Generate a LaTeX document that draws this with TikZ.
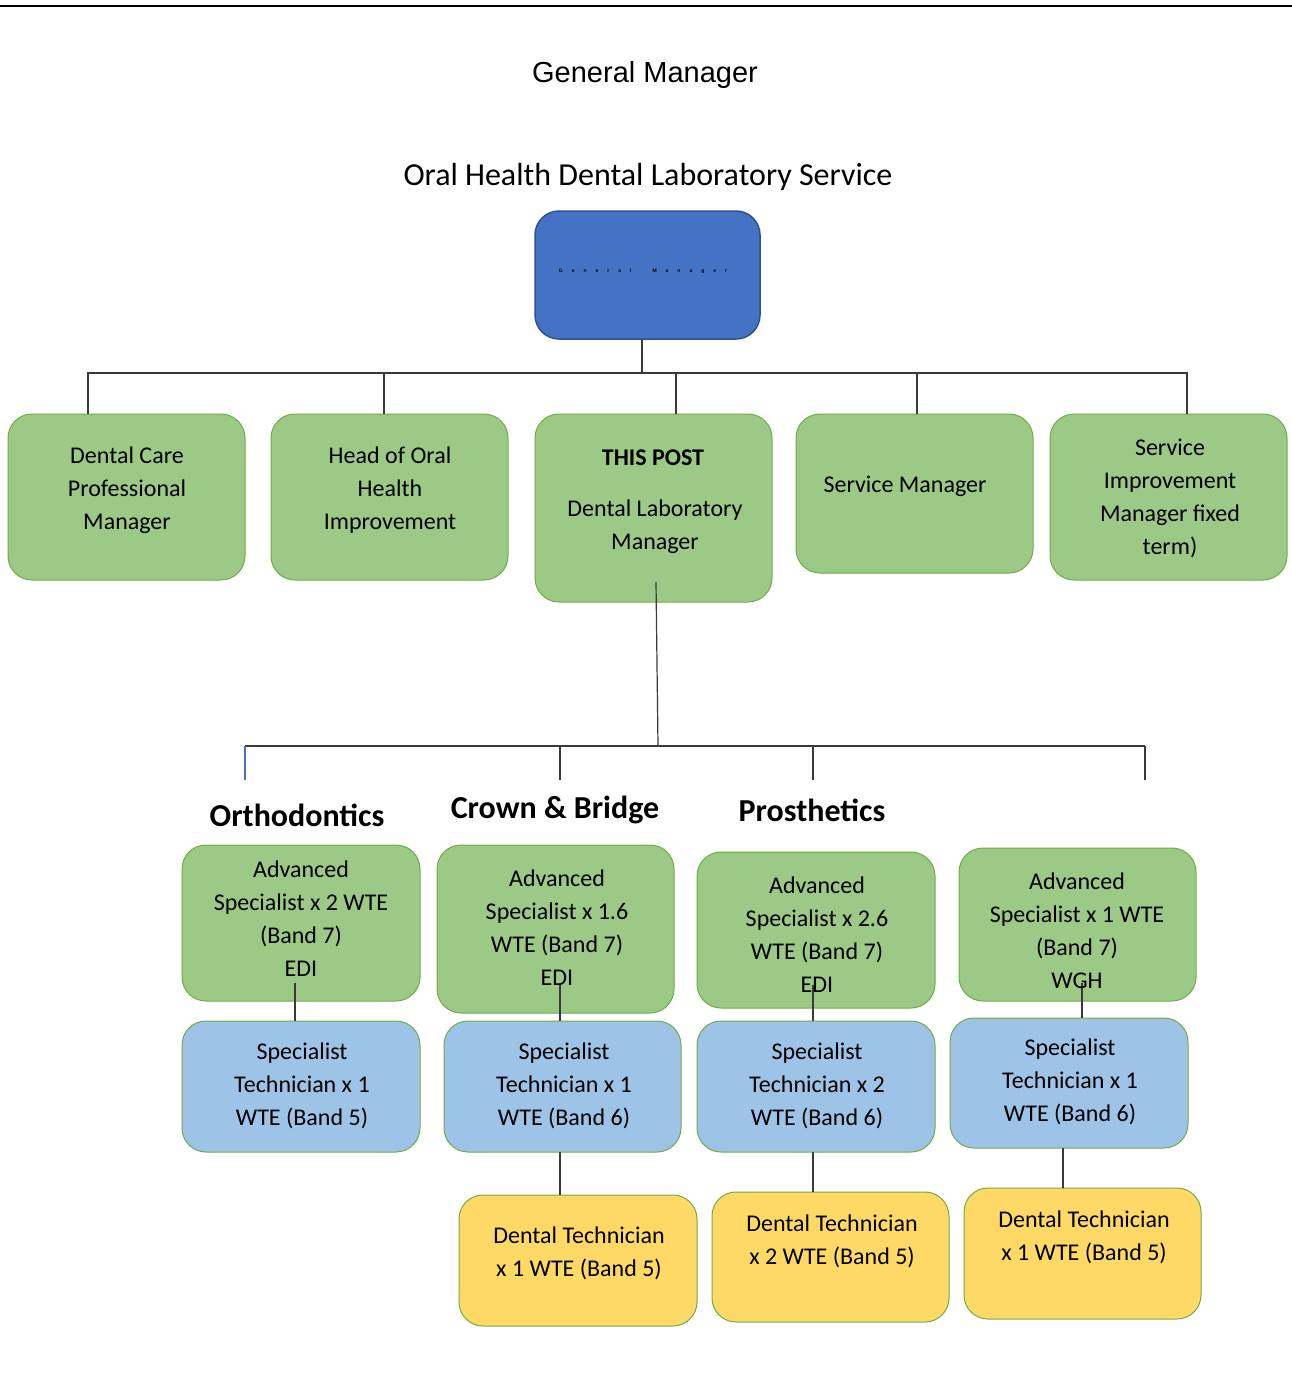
\documentclass[tikz,border=0pt]{standalone}
\usepackage{fontspec}
\setmainfont{Carlito}
\newfontfamily\arialf{Liberation Sans}
\definecolor{gfill}{HTML}{9CC985}
\definecolor{gline}{HTML}{70AD47}
\definecolor{bfill}{HTML}{4472C4}
\definecolor{bline}{HTML}{2F528F}
\definecolor{lbfill}{HTML}{9DC3E6}
\definecolor{yfill}{HTML}{FFD966}
\definecolor{conn}{HTML}{3A3A3A}
\definecolor{stubblue}{HTML}{4472C4}
\tikzset{
  box/.style={draw=gline, line width=1pt, rounded corners=24pt, inner sep=0pt},
  gbox/.style={box, fill=gfill},
  lbbox/.style={box, fill=lbfill},
  ybox/.style={box, fill=yfill},
  txt/.style={align=center, inner sep=0pt, font=\fontsize{24}{33}\selectfont},
  head/.style={inner sep=0pt, font=\fontsize{32}{36}\selectfont\bfseries},
  wire/.style={draw=conn, line width=1.2pt},
}
\newcommand{\mkbox}[6]{% style, name, x1, y1, x2, y2
  \node[#1, minimum width={(#5-#3)*1pt}, minimum height={(#6-#4)*1pt}] (#2) at ({(#3+#5)/2},{(#4+#6)/2}) {};}
\begin{document}
\begin{tikzpicture}[x=1pt,y=-1pt]
\useasboundingbox (0,0) rectangle (1292,1376);
\fill[white] (0,0) rectangle (1292,1376);
\coordinate (tl) at (0,6);
\coordinate (tr) at (1292,6);
\draw[line width=2.5pt] (tl) -- (tr);

\node[inner sep=0pt, font=\arialf\fontsize{29}{32}\selectfont] (gm) at (645,75) {General Manager};
\node[inner sep=0pt, font=\fontsize{32}{36}\selectfont] (ohs) at (648,177) {Oral Health Dental Laboratory Service};

% top blue box
\node[draw=bline, fill=bfill, line width=1.5pt, rounded corners=24pt, minimum width=225pt, minimum height=128pt] (top) at (647.5,275) {};
\node[inner sep=0pt, text=black, font=\arialf\bfseries\fontsize{5}{6}\selectfont] (topt) at (643,271) {G\hspace{9pt}e\hspace{9pt}n\hspace{9pt}e\hspace{9pt}r\hspace{9pt}a\hspace{9pt}l\hspace{21pt}M\hspace{9pt}a\hspace{9pt}n\hspace{9pt}a\hspace{9pt}g\hspace{9pt}e\hspace{9pt}r};

% row 1
\mkbox{gbox}{r1}{8}{414}{245}{580}
\mkbox{gbox}{r2}{271}{414}{508}{580}
\mkbox{gbox}{r3}{535}{414}{772}{602}
\mkbox{gbox}{r4}{796}{414}{1033}{573}
\mkbox{gbox}{r5}{1050}{414}{1287}{580}

\node[txt] (r1t) at (127,490) {Dental Care\\Professional\\Manager};
\node[txt] (r2t) at (390,490) {Head of Oral\\Health\\Improvement};
\node[txt, font=\fontsize{24}{33}\selectfont\bfseries] (r3a) at (653,458) {THIS POST};
\node[txt] (r3t) at (655,527) {Dental Laboratory\\Manager};
\node[txt] (r4t) at (905,486) {Service Manager};
\node[txt] (r5t) at (1170,498) {Service\\Improvement\\Manager fixed\\term)};

% connectors top
\coordinate (bus1) at (642,373);
\draw[wire] (top.south -| bus1) -- (bus1);
\draw[wire] (88,414) -- (88,373) -- (1187,373) -- (1187,414);
\draw[wire] (384,414) -- (384,373);
\draw[wire] (676,414) -- (676,373);
\draw[wire] (917,414) -- (917,373);

% second level bus
\coordinate (tp) at (656,582);
\coordinate (bus2) at (658,746);
\coordinate (s1) at (245,780);
\coordinate (s2) at (560,780);
\coordinate (s3) at (813,780);
\coordinate (s4) at (1145,780);
\draw[wire] (tp) -- (bus2);
\draw[wire] (245,746) -- (1145,746);
\draw[draw=stubblue, line width=1.2pt] (245,746) -- (s1);
\draw[wire] (560,746) -- (s2);
\draw[wire] (813,746) -- (s3);
\draw[wire] (1145,746) -- (s4);

\node[head] (h1) at (297,815) {Orthodontics};
\node[head] (h2) at (555,810) {Crown \& Bridge};
\node[head] (h3) at (812,810) {Prosthetics};

% row 3 green
\mkbox{gbox}{a1}{182}{845}{420}{1001}
\mkbox{gbox}{a2}{437}{845}{674}{1013}
\mkbox{gbox}{a3}{697}{852}{935}{1008}
\mkbox{gbox}{a4}{959}{848}{1196}{1001}

% row 4 light blue
\mkbox{lbbox}{b1}{182}{1021}{420}{1152}
\mkbox{lbbox}{b2}{444}{1021}{681}{1152}
\mkbox{lbbox}{b3}{697}{1021}{935}{1152}
\mkbox{lbbox}{b4}{950}{1018}{1188}{1148}

% row 5 yellow
\mkbox{ybox}{c2}{459}{1195}{697}{1326}
\mkbox{ybox}{c3}{712}{1192}{949}{1322}
\mkbox{ybox}{c4}{964}{1188}{1201}{1319}

% connectors green -> blue
\draw[wire] (295,983) -- (295,1021);
\draw[wire] (560,985) -- (560,1021);
\draw[wire] (813,985) -- (813,1021);
\draw[wire] (1082,983) -- (1082,1018);
% blue -> yellow
\draw[wire] (560,1152) -- (560,1195);
\draw[wire] (813,1152) -- (813,1192);
\draw[wire] (1063,1148) -- (1063,1188);

% texts
\node[txt] (a1t) at (301,919) {Advanced\\Specialist x 2 WTE\\(Band 7)\\EDI};
\node[txt] (a2t) at (557,928) {Advanced\\Specialist x 1.6\\WTE (Band 7)\\EDI};
\node[txt] (a3t) at (817,935) {Advanced\\Specialist x 2.6\\WTE (Band 7)\\EDI};
\node[txt] (a4t) at (1077,931) {Advanced\\Specialist x 1 WTE\\(Band 7)\\WGH};

\node[txt] (b1t) at (302,1086) {Specialist\\Technician x 1\\WTE (Band 5)};
\node[txt] (b2t) at (564,1086) {Specialist\\Technician x 1\\WTE (Band 6)};
\node[txt] (b3t) at (817,1086) {Specialist\\Technician x 2\\WTE (Band 6)};
\node[txt] (b4t) at (1070,1082) {Specialist\\Technician x 1\\WTE (Band 6)};

\node[txt] (c2t) at (579,1253) {Dental Technician\\x 1 WTE (Band 5)};
\node[txt] (c3t) at (832,1241) {Dental Technician\\x 2 WTE (Band 5)};
\node[txt] (c4t) at (1084,1237) {Dental Technician\\x 1 WTE (Band 5)};
\end{tikzpicture}
\end{document}
